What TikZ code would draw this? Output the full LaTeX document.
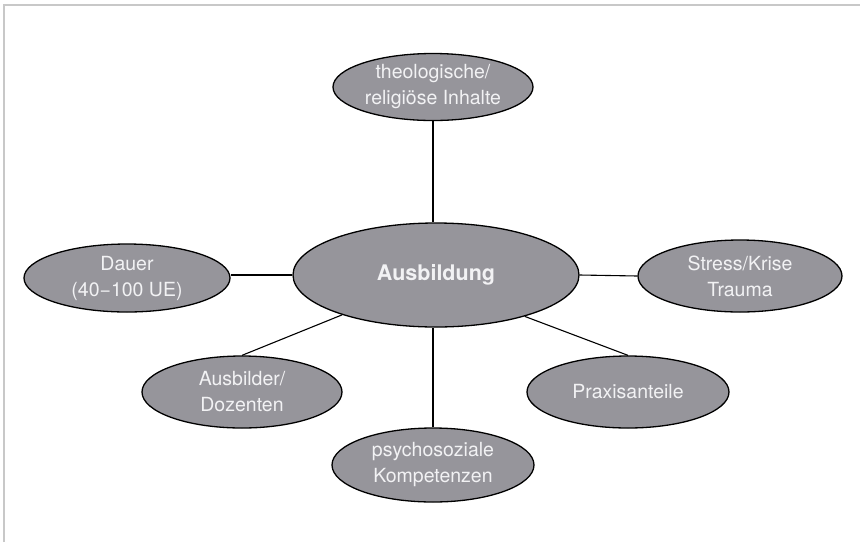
\documentclass[tikz,border=0pt]{standalone}
\usepackage{fontspec}
\setmainfont{TeX Gyre Heros}
\usetikzlibrary{shapes.geometric}
\definecolor{bubblefill}{RGB}{150,149,155}
\definecolor{bubbletext}{RGB}{242,242,244}
\definecolor{framegray}{RGB}{200,200,200}
\begin{document}
\begin{tikzpicture}[x=1pt,y=-1pt,
  bubble/.style={ellipse,draw=black,line width=1.3pt,fill=bubblefill,
    text=bubbletext,inner sep=0pt,align=center,
    font=\fontsize{19.5}{26}\selectfont},
  hub/.style={bubble,font=\fontsize{21.5}{26}\selectfont\bfseries},
  link/.style={draw=black,line width=1.1pt}]
\useasboundingbox (0,0) rectangle (860,542);
% frame along the top and left edges
\draw[framegray,line width=2pt] (4,542) coordinate (fl) -- (4,5) coordinate (fc) -- (860,5) coordinate (fr);

\node[hub,minimum width=286,minimum height=104] (c) at (436,275) {Ausbildung};
\node[bubble,minimum width=200,minimum height=67] (top) at (433,87) {theologische/\\religiöse Inhalte};
\node[bubble,minimum width=206,minimum height=68] (dauer) at (127,278) {Dauer\\(40−100 UE)};
\node[bubble,minimum width=204,minimum height=72] (stress) at (740,276) {Stress/Krise\\Trauma};
\node[bubble,minimum width=200,minimum height=72] (ausb) at (242,392) {Ausbilder/\\Dozenten};
\node[bubble,minimum width=202,minimum height=72] (praxis) at (628,392) {Praxisanteile};
\node[bubble,minimum width=202,minimum height=74] (psy) at (433,465) {psychosoziale\\Kompetenzen};

\path[link] (top.south) -- (top.south |- c.north);
\path[link] (psy.north) -- (psy.north |- c.south);
\path[link] (c.west) -- (c.west -| dauer.east);
\path[link] (c.east) -- (stress.west);
\path[link] (c.203) -- (ausb.north);
\path[link] (c.335) -- (praxis.north);
\end{tikzpicture}
\end{document}
